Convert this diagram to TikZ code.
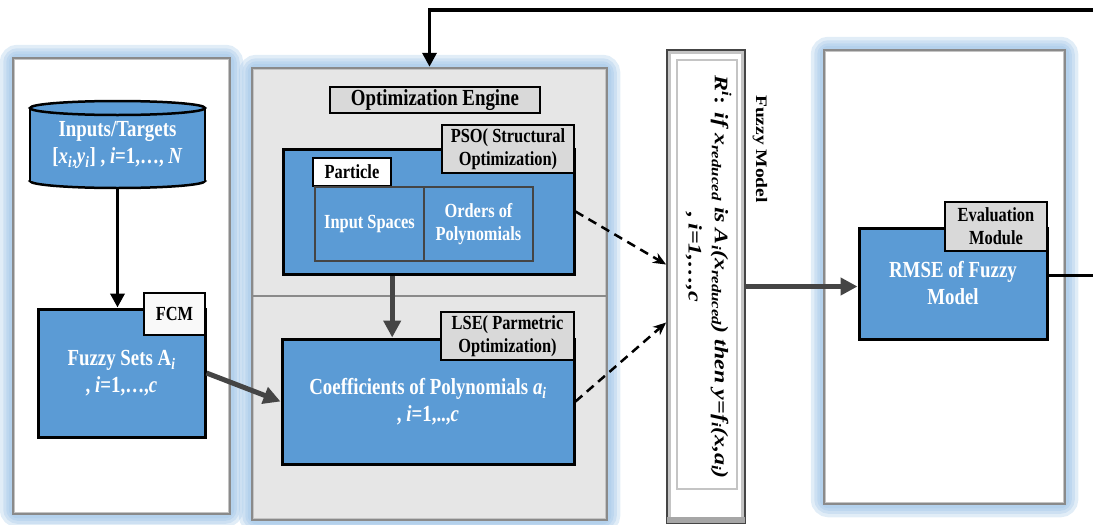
\documentclass[tikz,border=0pt]{standalone}
\usepackage{fontspec}
\setmainfont{Liberation Serif}[FakeStretch=0.82]
\newfontfamily\plainserif{Liberation Serif}
\usetikzlibrary{arrows.meta,calc,backgrounds}

\definecolor{boxblue}{HTML}{5B9BD5}
\definecolor{taggray}{HTML}{D9D9D9}
\definecolor{panelgray}{HTML}{E6E6E6}
\definecolor{framegray}{HTML}{8A8A8A}
\definecolor{framelight}{HTML}{C4C4C4}
\definecolor{glowblue}{HTML}{9DC3E6}
\definecolor{darkarrow}{HTML}{454545}

\newcommand\txtmain{\fontsize{23}{27}\selectfont\bfseries}
\newcommand\txttag{\fontsize{20}{23}\selectfont\bfseries}
\newcommand\txtside{\plainserif\fontsize{19.5}{22}\selectfont\bfseries}
\newcommand\txtrule{\plainserif\fontsize{24}{33}\selectfont\bfseries}

\begin{document}
\begin{tikzpicture}[x=1pt,y=-1pt,
  bluebox/.style={draw=black, line width=3pt, fill=boxblue, text=white,
    font=\txtmain, align=center, inner sep=0pt},
  tagbox/.style={draw=black, line width=2.4pt, fill=taggray, font=\txttag,
    align=center, inner sep=0pt},
  cellbox/.style={draw=darkarrow, line width=2.8pt, fill=boxblue, text=white,
    font=\txttag, align=center, inner sep=0pt},
  heavy/.style={darkarrow, line width=5pt, -{Triangle[length=17pt,width=17pt]}},
  blackarrow/.style={black, line width=3.5pt, -{Triangle[length=14pt,width=14pt]}},
  dasharrow/.style={black, line width=2.5pt, dash pattern=on 9pt off 6pt,
    -{Stealth[length=13pt,width=11pt]}}]
\useasboundingbox (0,0) rectangle (1093,525);

% ---- panels ----
\node[draw=framegray, line width=2.5pt, fill=white, inner sep=0pt,
  minimum width=217pt, minimum height=456pt] (lp) at (121.5,286) {};
\node[draw=framegray, line width=2.5pt, fill=panelgray, inner sep=0pt,
  minimum width=355pt, minimum height=452pt] (mp) at (429.5,294) {};
\node[draw=framegray, line width=2.5pt, fill=white, inner sep=0pt,
  minimum width=241pt, minimum height=454pt] (rp) at (944.5,277) {};
\foreach \n in {lp,mp,rp}
  \draw[framelight, line width=1pt] ($(\n.north west)+(3,3)$) rectangle ($(\n.south east)+(-3,-3)$);
\coordinate (sep) at (0,296);
\draw[framegray, line width=1.5pt] (mp.west |- sep) -- (mp.east |- sep);

\begin{scope}[on background layer]
  \foreach \n in {lp,mp,rp}
    \foreach \w in {24,17,11,6}
      \draw[glowblue, line width=\w pt, opacity=0.3, rounded corners=6pt]
        (\n.north west) rectangle (\n.south east);
\end{scope}

% ---- fuzzy model frame ----
\node[draw=darkarrow, line width=1.8pt, fill=framelight, inner sep=0pt,
  minimum width=78pt, minimum height=473pt] (fm) at (706,286.5) {};
\fill[white] ($(fm.north west)+(5,5)$) rectangle ($(fm.south east)+(-5,-7)$);
\fill[gray!70] ($(fm.south west)+(1,-7)$) rectangle ($(fm.south east)+(-1,-1)$);
\draw[framelight, line width=1.5pt] (677,60) rectangle (737,489);
\node[rotate=-90, font=\txtrule, inner sep=0pt] (rule) at (707,277)
  {\scalebox{1}[0.8]{\begin{tabular}{@{}c@{}}
   \textit{R}\textsuperscript{\textit{i}}: \textit{if x\textsubscript{reduced} is
   A\textsubscript{i}(x\textsubscript{reduced}) then y=f\textsubscript{i}(x,a\textsubscript{i})}\\
   , \textit{i=1,…,c}\hspace*{40pt}\end{tabular}}};
\node[rotate=-90, font=\txtside, inner sep=0pt] (fmt) at (760,149)
  {\scalebox{1}[0.82]{Fuzzy Model}};

% ---- inputs / targets database ----
\filldraw[fill=boxblue, draw=black, line width=2.5pt] (117.5,181) ellipse [x radius=87.5, y radius=7];
\fill[boxblue] (30,108) rectangle (205,181);
\draw[black, line width=2.5pt] (30,108) -- (30,181) (205,108) -- (205,181);
\filldraw[fill=boxblue, draw=black, line width=2.5pt] (117.5,108) ellipse [x radius=87.5, y radius=7];
\node[text=white, font=\txtmain, align=center, inner sep=0pt,
  minimum width=175pt, minimum height=86pt] (inp) at (117.5,145)
  {Inputs/Targets\\{[}\textit{x}\textsubscript{\textit{i}},\textit{y}\textsubscript{\textit{i}}{]} ,
   \textit{i}=1,…, \textit{N}};

% ---- fuzzy sets ----
\node[bluebox, minimum width=167pt, minimum height=128pt] (fs) at (121.5,373)
  {Fuzzy Sets A\textsubscript{\textit{i}}\\, \textit{i}=1,…,\textit{c}};
\node[tagbox, fill=white!95!gray, minimum width=61pt, minimum height=42pt] (fcm) at (174.5,314) {FCM};

% ---- optimization engine ----
\node[tagbox, minimum width=210pt, minimum height=26pt, font=\txtmain] (oe) at (435,100) {Optimization Engine};
\node[bluebox, minimum width=291pt, minimum height=125pt] (pso) at (428.5,211.5) {};
\node[tagbox, minimum width=132pt, minimum height=48pt] (psotag) at (508,149)
  {PSO( Structural\\Optimization)};
\node[tagbox, fill=white, minimum width=78pt, minimum height=28pt] (ptc) at (352,172) {Particle};
\node[cellbox, minimum width=109pt, minimum height=74pt] (ins) at (369.5,224) {Input Spaces};
\node[cellbox, minimum width=109pt, minimum height=74pt] (ord) at (478.5,224) {Orders of\\Polynomials};

\node[bluebox, minimum width=292pt, minimum height=125pt] (coef) at (428,401.5)
  {\fontsize{23}{18}\selectfont Coefficients of Polynomials \textit{a}\textsubscript{\textit{i}}\\, \textit{i}=1,..,\textit{c}};
\node[tagbox, minimum width=133pt, minimum height=48pt] (lsetag) at (507.5,336)
  {LSE( Parmetric\\Optimization)};

% ---- evaluation ----
\node[bluebox, minimum width=188pt, minimum height=111pt] (rmse) at (953,283.5)
  {RMSE of Fuzzy\\Model};
\node[tagbox, minimum width=102pt, minimum height=49pt] (evtag) at (996,226.5)
  {Evaluation\\Module};

% ---- connectors ----
\draw[blackarrow] (inp.south) -- (inp.south |- fs.north);
\draw[heavy] (fs.east) -- (coef.west);
\draw[heavy] (ptc.east |- pso.south) -- (ptc.east |- coef.north);
\draw[dasharrow] (pso.east) -- ($(fm.west)+(0,-22)$);
\draw[dasharrow] (coef.east) -- ($(fm.west)+(0,36)$);
\draw[heavy] (fm.east) -- (fm.east -| rmse.west);
\coordinate (fbr) at (1100,10);
\draw[blackarrow] ($(rmse.east)+(0,-8)$) -| (fbr) -| (mp.north);
\end{tikzpicture}
\end{document}
